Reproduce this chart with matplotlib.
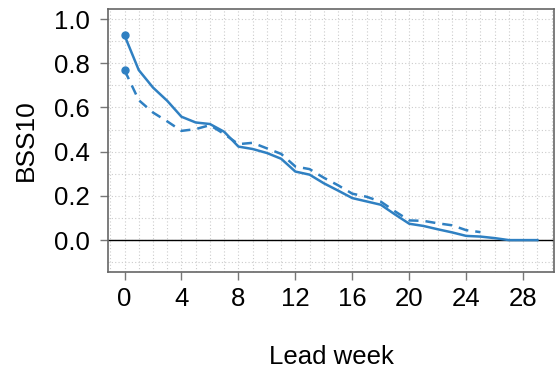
import numpy as np
import matplotlib
matplotlib.use("Agg")
import matplotlib.pyplot as plt

plt.rcParams['font.family'] = ['Liberation Sans', 'DejaVu Sans']

# lead weeks and skill scores
weeks_solid = list(range(0, 30))
bss_solid = [0.926, 0.769, 0.69, 0.63, 0.558, 0.532, 0.525, 0.49, 0.423, 0.412,
             0.394, 0.368, 0.31, 0.296, 0.257, 0.224, 0.19, 0.175, 0.16, 0.116,
             0.074, 0.064, 0.049, 0.035, 0.019, 0.016, 0.009, 0.0, 0.0, 0.0]
weeks_dashed = list(range(0, 26))
bss_dashed = [0.769, 0.633, 0.577, 0.537, 0.494, 0.502, 0.52, 0.48, 0.434, 0.44,
              0.415, 0.39, 0.333, 0.321, 0.282, 0.248, 0.21, 0.196, 0.174, 0.13,
              0.089, 0.087, 0.076, 0.067, 0.045, 0.036]
xticks = [0, 4, 8, 12, 16, 20, 24, 28]
yticks = [0.0, 0.2, 0.4, 0.6, 0.8, 1.0]

blue = '#2f80c2'

fig = plt.figure(figsize=(5.55, 3.71), dpi=100)
ax = fig.add_axes([0.1946, 0.267, 0.8034, 0.708])

# light dotted grid, one line per week and per 0.1
for gx in range(-1, 31):
    ax.axvline(gx, color='#cccccc', lw=0.8, ls=(0, (1, 2)), zorder=0)
for gy in np.arange(-0.1, 1.05, 0.1):
    ax.axhline(gy, color='#cccccc', lw=0.8, ls=(0, (1, 2)), zorder=0)

ax.axhline(0, color='black', lw=1.0, zorder=1)

ax.plot(weeks_solid, bss_solid, color=blue, lw=1.8, zorder=3)
ax.plot(weeks_dashed, bss_dashed, color=blue, lw=1.8, ls=(0, (4, 2.8)), zorder=3)
ax.plot([weeks_solid[0]], [bss_solid[0]], 'o', color=blue, ms=5, zorder=4)
ax.plot([weeks_dashed[0]], [bss_dashed[0]], 'o', color=blue, ms=5, zorder=4)

ax.set_xlim(-1.16, 30.16)
ax.set_ylim(-0.144, 1.044)
ax.set_xticks(xticks)
ax.set_yticks(yticks)
ax.set_yticklabels([f"{v:.1f}" for v in yticks])

for s in ax.spines.values():
    s.set_color('#666666')
    s.set_linewidth(1.2)
ax.tick_params(axis='both', colors='#777777', length=6, width=1.0,
               labelsize=18.5, labelcolor='black')
ax.tick_params(axis='x', pad=5)
ax.tick_params(axis='y', pad=7)

ax.set_xlabel("Lead week", fontsize=18.5, labelpad=24)
ax.set_ylabel("BSS10", fontsize=19, labelpad=12)

fig.savefig("out.png", dpi=100)
